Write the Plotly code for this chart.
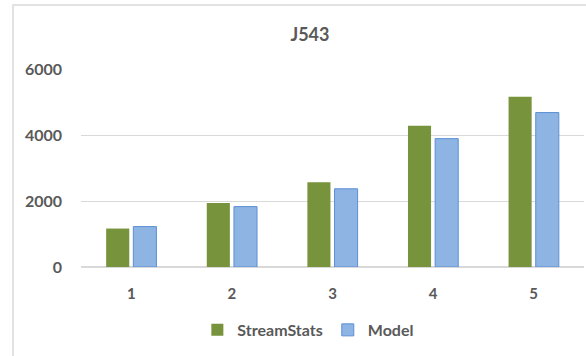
import plotly.graph_objects as go

categories = ["1", "2", "3", "4", "5"]
streamstats = [1165, 1940, 2570, 4280, 5160]
model = [1225, 1830, 2370, 3890, 4680]
y_ticks = [0, 2000, 4000, 6000]

TEXT = "#595959"
GRID = "#D9D9D9"
FONT = "Lato"

fig = go.Figure()
fig.add_trace(go.Bar(
    x=categories, y=streamstats, name="<b>StreamStats</b>",
    marker=dict(color="#77933C", line=dict(width=0)),
))
fig.add_trace(go.Bar(
    x=categories, y=model, name="<b>Model</b>",
    marker=dict(color="#8DB4E2", line=dict(color="#5B8FD6", width=1)),
))

fig.update_layout(
    width=586, height=356,
    margin=dict(l=81, r=2, t=69, b=89),
    paper_bgcolor="white", plot_bgcolor="white",
    barmode="group", bargap=0.46, bargroupgap=0.15,
    font=dict(family=FONT, color=TEXT, size=15),
    title=dict(text="<b>J543</b>", x=0.529, xanchor="center",
               y=1 - 35 / 356, yanchor="middle", yref="container",
               font=dict(family=FONT, size=18, color=TEXT)),
    showlegend=True,
    legend=dict(orientation="h", x=0.452, xanchor="center",
                y=-0.318, yanchor="middle",
                font=dict(family=FONT, size=16, color=TEXT),
                itemwidth=30, traceorder="normal"),
    xaxis=dict(showgrid=False, showline=True, linecolor=GRID, linewidth=1,
               tickvals=categories,
               ticktext=[f"<b>{c}</b>" for c in categories],
               tickfont=dict(family=FONT, size=15, color=TEXT),
               ticklabelstandoff=13, ticks=""),
    yaxis=dict(range=[0, 6000], tickvals=y_ticks,
               ticktext=[f"<b>{v}</b>" for v in y_ticks], showgrid=True,
               gridcolor=GRID, gridwidth=1, zeroline=True, zerolinecolor=GRID,
               showline=False,
               tickfont=dict(family=FONT, size=16, color=TEXT),
               ticklabelstandoff=18, ticks=""),
    shapes=[dict(type="rect", xref="paper", yref="paper",
                 x0=-(81 - 13) / 503, x1=1.2, y0=-0.6, y1=(267 - 5) / 198,
                 line=dict(color=GRID, width=1.5), fillcolor="rgba(0,0,0,0)",
                 layer="below")],
)

fig.write_html("out.html")
